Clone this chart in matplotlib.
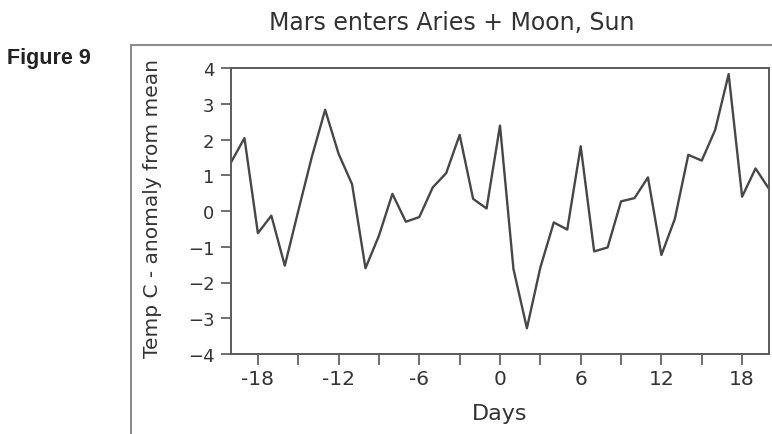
import matplotlib
matplotlib.use("Agg")
import matplotlib.pyplot as plt
from matplotlib.lines import Line2D
from matplotlib import font_manager as fm

days = list(range(-20, 21))
anomaly = [1.36, 2.04, -0.62, -0.13, -1.53, 0.0, 1.5, 2.83, 1.6, 0.75,
           -1.6, -0.69, 0.48, -0.3, -0.17, 0.66, 1.06, 2.13, 0.34, 0.07,
           2.39, -1.62, -3.28, -1.58, -0.32, -0.52, 1.81, -1.13, -1.02, 0.27,
           0.36, 0.94, -1.23, -0.22, 1.57, 1.41, 2.27, 3.83, 0.4, 1.19, 0.62]
xtick_pos = list(range(-18, 19, 3))
xtick_labels = ["-18", "", "-12", "", "-6", "", "0", "", "6", "", "12", "", "18"]
ytick_pos = [-4, -3, -2, -1, 0, 1, 2, 3, 4]

# pick the regular-width Liberation Sans Bold (not the Narrow variant)
fig9_font = None
for f in fm.fontManager.ttflist:
    if (f.name == "Liberation Sans" and "Narrow" not in f.fname
            and f.weight in ("bold", 700) and f.style == "normal"):
        fig9_font = fm.FontProperties(fname=f.fname, size=15.5)
        break
if fig9_font is None:
    fig9_font = fm.FontProperties(family="Roboto", weight="bold", size=15.5)

W, H = 772, 435
fig = plt.figure(figsize=(W / 100, H / 100), dpi=100)
ax = fig.add_axes([231 / W, 1 - 355 / H, (769 - 231) / W, (355 - 69) / H])

ax.plot(days, anomaly, color="#474747", lw=1.7)
ax.set_xlim(-20, 20)
ax.set_ylim(-4, 4)
ax.set_xticks(xtick_pos)
ax.set_xticklabels(xtick_labels)
ax.set_yticks(ytick_pos)

txt = "#333333"
ax.tick_params(axis="x", length=8, width=1.2, color="#555555", pad=3,
               labelsize=14.5, labelcolor=txt)
ax.tick_params(axis="y", length=7, width=1.2, color="#555555", pad=5,
               labelsize=13, labelcolor=txt)
for s in ax.spines.values():
    s.set_color("#5a5a5a")
    s.set_linewidth(1.4)

fig.text(452 / W, 1 - 30 / H, "Mars enters Aries + Moon, Sun", ha="center",
         va="baseline", fontsize=17, color=txt)
fig.text(500 / W, 1 - 420 / H, "Days", ha="center", va="baseline",
         fontsize=16, color=txt)
fig.text(153 / W, 1 - 208 / H, "Temp C - anomaly from mean", ha="center",
         va="center", rotation=90, fontsize=14.5, color=txt)
fig.text(7 / W, 1 - 64 / H, "Figure 9", ha="left", va="baseline",
         fontproperties=fig9_font, color="#222222")

fig.add_artist(Line2D([131 / W, 131 / W], [0, 1 - 46 / H],
                      transform=fig.transFigure, color="#8c8c8c", lw=1.5))
fig.add_artist(Line2D([131 / W, 1], [1 - 46 / H, 1 - 46 / H],
                      transform=fig.transFigure, color="#8c8c8c", lw=1.5))

fig.savefig("out.png", dpi=100)
